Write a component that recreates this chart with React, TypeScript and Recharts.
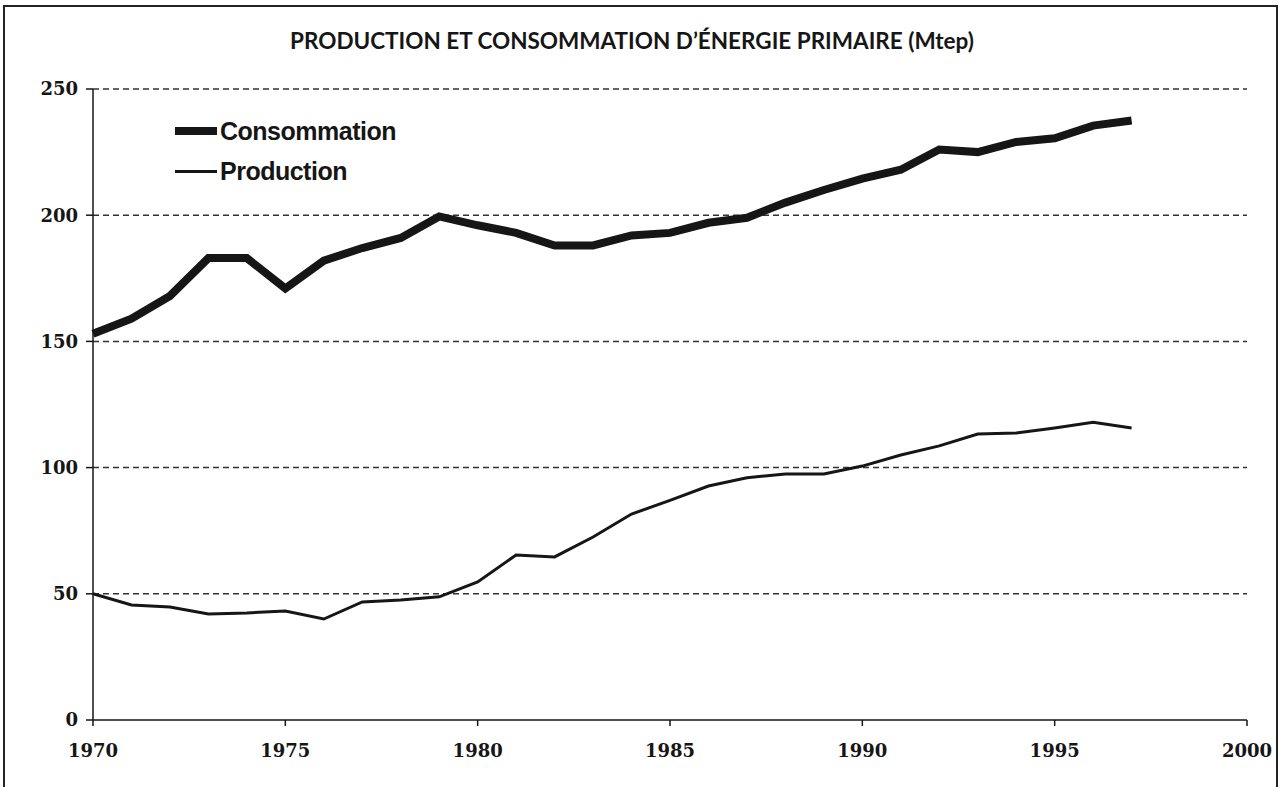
import { LineChart, Line, XAxis, YAxis, CartesianGrid } from 'recharts';

const years = [
  1970, 1971, 1972, 1973, 1974, 1975, 1976, 1977, 1978, 1979,
  1980, 1981, 1982, 1983, 1984, 1985, 1986, 1987, 1988, 1989,
  1990, 1991, 1992, 1993, 1994, 1995, 1996, 1997,
];
const consommation = [
  153, 159, 168, 183, 183, 171, 182, 187, 191, 199.5,
  196, 193, 188, 188, 192, 193, 197, 199, 205, 210,
  214.5, 218, 226, 225, 229, 230.5, 235.5, 237.5,
];
const production = [
  50, 45.6, 44.8, 42, 42.4, 43.2, 40, 46.8, 47.5, 48.8,
  54.7, 65.4, 64.6, 72.5, 81.6, 87, 92.7, 96, 97.5, 97.5,
  100.6, 105, 108.6, 113.3, 113.7, 115.7, 118, 115.7,
];
const xTicks = [1970, 1975, 1980, 1985, 1990, 1995, 2000];
const yTicks = [0, 50, 100, 150, 200, 250];

const data = years.map((year, i) => ({
  year,
  consommation: consommation[i],
  production: production[i],
}));

const ink = '#161616';
const tickFont = { fontFamily: '"DejaVu Serif", serif', fontWeight: 700, fontSize: 18, fill: ink };

// legend drawn by hand, the reference has it inside the plot area
function LegendBox() {
  const rows = [
    { label: 'Consommation', width: 8 },
    { label: 'Production', width: 3 },
  ];
  return (
    <div
      style={{
        position: 'absolute',
        left: 175,
        top: 111,
        fontFamily: '"Liberation Sans", Arial, sans-serif',
        fontWeight: 700,
        fontSize: 25,
        color: ink,
      }}
    >
      {rows.map((r) => (
        <div key={r.label} style={{ display: 'flex', alignItems: 'center', height: 40 }}>
          <div style={{ width: 42, height: r.width, background: ink, marginRight: 3 }} />
          <span style={{ letterSpacing: -0.5 }}>{r.label}</span>
        </div>
      ))}
    </div>
  );
}

export default function App() {
  return (
    <div
      style={{
        position: 'absolute',
        left: 0,
        top: 0,
        width: 1282,
        height: 787,
        background: '#fff',
        overflow: 'hidden',
      }}
    >
      <div
        style={{
          position: 'absolute',
          left: 3,
          top: 5,
          width: 1275,
          height: 800,
          border: '2px solid #222',
          boxSizing: 'border-box',
        }}
      />
      <div
        style={{
          position: 'absolute',
          left: 0,
          width: 1264,
          top: 27,
          textAlign: 'center',
          fontFamily: 'Lato, "Open Sans", sans-serif',
          fontWeight: 700,
          fontSize: 22.5,
          color: ink,
        }}
      >
        PRODUCTION ET CONSOMMATION D’ÉNERGIE PRIMAIRE (Mtep)
      </div>
      <LineChart
        width={1282}
        height={787}
        data={data}
        margin={{ top: 89, right: 35, bottom: 0, left: 0 }}
      >
        <CartesianGrid
          vertical={false}
          stroke="#333"
          strokeWidth={1.5}
          strokeDasharray="6 4"
          horizontalValues={[50, 100, 150, 200, 250]}
        />
        <XAxis
          dataKey="year"
          type="number"
          domain={[1970, 2000]}
          ticks={xTicks}
          height={67}
          stroke={ink}
          strokeWidth={1.5}
          tickSize={6}
          tick={tickFont}
          tickMargin={18}
          interval={0}
        />
        <YAxis
          type="number"
          domain={[0, 250]}
          ticks={yTicks}
          width={93}
          stroke={ink}
          strokeWidth={1.5}
          tickSize={7}
          tick={tickFont}
          tickMargin={8}
          interval={0}
        />
        <Line
          dataKey="consommation"
          stroke={ink}
          strokeWidth={8}
          dot={false}
          isAnimationActive={false}
        />
        <Line
          dataKey="production"
          stroke={ink}
          strokeWidth={3}
          dot={false}
          isAnimationActive={false}
        />
      </LineChart>
      <LegendBox />
    </div>
  );
}
